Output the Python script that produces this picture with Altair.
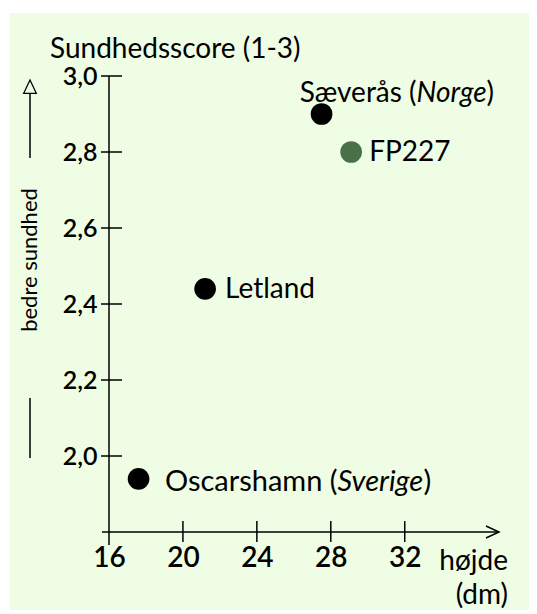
import altair as alt
import pandas as pd

# ---- data ----
names = ["Sæverås", "FP227", "Letland", "Oscarshamn"]
hojde = [27.5, 29.1, 21.2, 17.6]
score = [2.90, 2.80, 2.44, 1.94]
point_colors = ["#000000", "#4a704a", "#000000", "#000000"]

xticks = [16, 20, 24, 28, 32]
yticks = [2.0, 2.2, 2.4, 2.6, 2.8, 3.0]

# label segments (rich text split into pieces)
seg_point = ["Sæverås", "Sæverås", "Sæverås", "FP227", "Letland",
             "Oscarshamn", "Oscarshamn", "Oscarshamn"]
seg_text = ["Sæverås (", "Norge", ")", "FP227", "Letland",
            "Oscarshamn (", "Sverige", ")"]
seg_style = ["normal", "italic", "normal", "normal", "normal",
             "normal", "italic", "normal"]
seg_align = ["right", "left", "left", "left", "left", "right", "left", "left"]
seg_dx = [95, 95, 165, 18, 20, 199, 199, 285]
seg_dy = [-20, -20, -20, 1, 1, 3, 3, 3]
seg_size = [28, 28, 28, 28, 28, 29, 29, 29]

FONT = "Lato"
XDOM = [16, 37.1]
YDOM = [1.8, 3.0]
W, H = 390, 456

pts = pd.DataFrame({"name": names, "hojde": hojde, "score": score, "color": point_colors})
pos = dict(zip(names, zip(hojde, score)))
segs = pd.DataFrame({
    "text": seg_text,
    "hojde": [pos[p][0] for p in seg_point],
    "score": [pos[p][1] for p in seg_point],
})

xs = alt.Scale(domain=XDOM, nice=False, zero=False)
ys = alt.Scale(domain=YDOM, nice=False, zero=False)
one = alt.Data(values=[{"a": 1}])

# green panel
panel = alt.Chart(one).mark_rect(color="#effde5").encode(
    x=alt.value(-99), x2=alt.value(440), y=alt.value(-63), y2=alt.value(545)
)

# axes (labels only) on an invisible base
base = alt.Chart(pts).mark_point(opacity=0).encode(
    x=alt.X("hojde:Q", scale=xs, axis=alt.Axis(
        values=xticks, title=None, grid=False, domain=False, ticks=False,
        labelFontSize=28, labelFont=FONT, labelColor="#000", labelPadding=12,
        labelFontWeight=600,
        labelFlush=False, labelOverlap=False, zindex=2)),
    y=alt.Y("score:Q", scale=ys, axis=alt.Axis(
        values=yticks, title=None, grid=False, domain=False, ticks=False,
        labelFontSize=25, labelFont=FONT, labelColor="#000", labelPadding=12,
        labelFontWeight=600, labelOverlap=False, zindex=2,
        labelExpr="replace(format(datum.value, '.1f'), '.', ',')")),
)

yaxis_line = alt.Chart(one).mark_rule(color="#000", strokeWidth=1.5).encode(
    x=alt.value(0), y=alt.value(0), y2=alt.value(H + 13))
xaxis_line = alt.Chart(one).mark_rule(color="#000", strokeWidth=1.5).encode(
    y=alt.value(H), x=alt.value(-7), x2=alt.value(W))
xarrow = alt.Chart(one).mark_point(
    shape="M-1,-0.46L0,0L-1,0.46", filled=False, color="#000", strokeWidth=1.5,
    size=676, opacity=1).encode(x=alt.value(W), y=alt.value(H))

ytick_df = pd.DataFrame({"score": yticks})
yt = alt.Chart(ytick_df).mark_rule(color="#000", strokeWidth=1.5).encode(
    y=alt.Y("score:Q", scale=ys), x=alt.value(-8), x2=alt.value(13))
xtick_df = pd.DataFrame({"hojde": xticks[1:]})
xt = alt.Chart(xtick_df).mark_rule(color="#000", strokeWidth=1.5).encode(
    x=alt.X("hojde:Q", scale=xs), y=alt.value(H - 11), y2=alt.value(H + 10))

# side arrow "bedre sundhed"
side_head = alt.Chart(one).mark_point(
    shape="M0,-1L0.9,0.9L-0.9,0.9Z", filled=False, color="#000", strokeWidth=1.3,
    size=196, opacity=1).encode(x=alt.value(-79), y=alt.value(11))
side_line1 = alt.Chart(one).mark_rule(color="#000", strokeWidth=1.5).encode(
    x=alt.value(-79), y=alt.value(17), y2=alt.value(82))
side_line2 = alt.Chart(one).mark_rule(color="#000", strokeWidth=1.5).encode(
    x=alt.value(-79), y=alt.value(322), y2=alt.value(382))
side_text = alt.Chart(one).mark_text(
    text="bedre sundhed", angle=270, font=FONT, fontSize=22, color="#000",
    align="center", baseline="middle").encode(x=alt.value(-79), y=alt.value(184))

ytitle = alt.Chart(one).mark_text(
    text="Sundhedsscore (1-3)", font=FONT, fontSize=28, color="#000",
    align="left", baseline="alphabetic").encode(x=alt.value(-59), y=alt.value(-18))
xtitle1 = alt.Chart(one).mark_text(
    text="højde", font=FONT, fontSize=28, color="#000",
    align="right", baseline="alphabetic").encode(x=alt.value(399), y=alt.value(494))
xtitle2 = alt.Chart(one).mark_text(
    text="(dm)", font=FONT, fontSize=28, color="#000",
    align="right", baseline="alphabetic").encode(x=alt.value(399), y=alt.value(528))

dots = alt.Chart(pts).mark_circle(size=470, opacity=1).encode(
    x=alt.X("hojde:Q", scale=xs),
    y=alt.Y("score:Q", scale=ys),
    color=alt.Color("color:N", scale=None),
)

labels = []
for i in range(len(seg_text)):
    row = segs.iloc[[i]]
    labels.append(
        alt.Chart(row).mark_text(
            font=FONT, fontSize=seg_size[i], color="#000", fontStyle=seg_style[i],
            align=seg_align[i], baseline="middle", dx=seg_dx[i], dy=seg_dy[i]
        ).encode(
            x=alt.X("hojde:Q", scale=xs),
            y=alt.Y("score:Q", scale=ys),
            text="text:N",
        )
    )

chart = alt.layer(
    panel, base, yaxis_line, xaxis_line, xarrow, yt, xt,
    side_head, side_line1, side_line2, side_text,
    ytitle, xtitle1, xtitle2, dots, *labels
).properties(
    width=W, height=H,
    autosize=alt.AutoSizeParams(type="none"),
    padding={"left": 101, "top": 68, "right": 30, "bottom": 78},
    background="#ffffff",
).configure_view(stroke=None)

chart.save("out.html", embed_options={"renderer": "svg", "actions": False})
